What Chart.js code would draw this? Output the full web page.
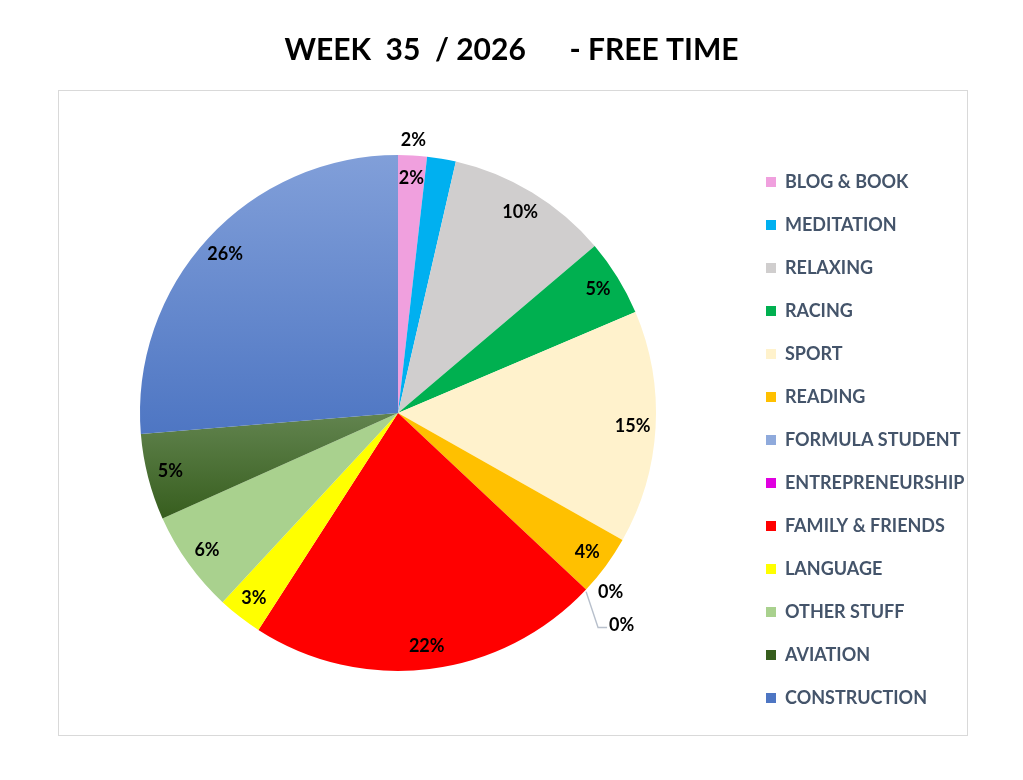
<!DOCTYPE html>
<html>
<head>
<meta charset="utf-8">
<title>Free time</title>
<script src="https://cdn.jsdelivr.net/npm/chart.js@4.4.1/dist/chart.umd.min.js"></script>
<style>
    html, body { margin: 0; padding: 0; background: #fff; }
</style>
</head>
<body>
<canvas id="myChart" width="1023" height="780"></canvas>
<script>
// data (share of free time, %)
const categories = ["BLOG & BOOK", "MEDITATION", "RELAXING", "RACING", "SPORT", "READING",
    "FORMULA STUDENT", "ENTREPRENEURSHIP", "FAMILY & FRIENDS", "LANGUAGE", "OTHER STUFF",
    "AVIATION", "CONSTRUCTION"];
const shares = [1.8, 1.8, 10.2, 4.8, 14.6, 3.8, 0, 0, 22.1, 2.8, 6.4, 5.4, 26.3];

const colours = ["#F0A0DE", "#00B0F0", "#D0CECE", "#00B050", "#FFF2CC", "#FFC000",
    "#8FAADC", "#E000E0", "#FF0000", "#FFFF00", "#A9D18E", "#4A6D38", "#5B7FCB"];
// top / bottom shades for the two slices that have a gradient fill
const shades = { 11: ["#62844F", "#375E1E"], 12: ["#819FD9", "#4E76C3"] };

const fontName = "Lato";
const pieRadius = 258;

function sliceFill(context) {
    let i = context.dataIndex;
    let chart = context.chart;
    let area = chart.chartArea;
    if (!shades[i] || !area) return colours[i];

    let cx = (area.left + area.right) / 2;
    let cy = (area.top + area.bottom) / 2;
    let r = pieRadius;
    let total = shares.reduce((a, b) => a + b, 0);
    let before = shares.slice(0, i).reduce((a, b) => a + b, 0);
    let a0 = -Math.PI / 2 + 2 * Math.PI * before / total;
    let a1 = a0 + 2 * Math.PI * shares[i] / total;
    let yMin = cy, yMax = cy;
    for (let k = 0; k <= 40; k++) {
        let y = cy + r * Math.sin(a0 + (a1 - a0) * k / 40);
        yMin = Math.min(yMin, y);
        yMax = Math.max(yMax, y);
    }
    let g = chart.ctx.createLinearGradient(0, yMin, 0, yMax);
    g.addColorStop(0, shades[i][0]);
    g.addColorStop(1, shades[i][1]);
    return g;
}

// grey frame round the plot, like the spreadsheet chart area
const frame = {
    id: "frame",
    beforeDraw(chart) {
        let ctx = chart.ctx;
        ctx.save();
        ctx.strokeStyle = "#D9D9D9";
        ctx.lineWidth = 1;
        ctx.strokeRect(58.5, 90.5, 909, 645);
        ctx.restore();
    }
};

// percentage labels on the slices
const sliceLabels = {
    id: "sliceLabels",
    afterDatasetsDraw(chart) {
        let ctx = chart.ctx;
        let meta = chart.getDatasetMeta(0);
        let total = shares.reduce((a, b) => a + b, 0);
        let zeroCount = 0;
        let prevSmall = false;
        let prevAngle = 0;

        ctx.save();
        ctx.font = "bold 18px " + fontName;
        ctx.fillStyle = "#000";
        ctx.textBaseline = "middle";

        meta.data.forEach(function(arc, i) {
            let p = arc.getProps(["x", "y", "startAngle", "endAngle", "outerRadius"], true);
            let text = Math.round(shares[i] / total * 100) + "%";
            let mid = (p.startAngle + p.endAngle) / 2;

            if (shares[i] === 0) {
                let ex = p.x + Math.cos(mid) * p.outerRadius;
                let ey = p.y + Math.sin(mid) * p.outerRadius;
                ctx.textAlign = "left";
                if (zeroCount === 0) {
                    ctx.fillText(text, ex + 12, ey + 3);
                } else {
                    ctx.strokeStyle = "#B8C0CC";
                    ctx.lineWidth = 1.5;
                    ctx.beginPath();
                    ctx.moveTo(ex, ey + 2);
                    ctx.lineTo(ex + 12, ey + 38);
                    ctx.lineTo(ex + 21, ey + 38);
                    ctx.stroke();
                    ctx.fillText(text, ex + 23, ey + 36);
                }
                zeroCount++;
                return;
            }

            // a thin slice next to another thin one gets its label outside,
            // pushed out along the neighbour's ray
            let small = shares[i] / total < 0.025;
            let ang = mid;
            let r = p.outerRadius - 23;
            if (small && prevSmall) {
                r = p.outerRadius + 15;
                ang = prevAngle;
            }
            prevSmall = small;
            prevAngle = mid;
            ctx.textAlign = "center";
            ctx.fillText(text, p.x + Math.cos(ang) * r, p.y + Math.sin(ang) * r);
        });
        ctx.restore();
    }
};

var myChart = new Chart(document.getElementById("myChart").getContext("2d"), {
    type: "pie",
    data: {
        labels: categories,
        datasets: [{
            data: shares,
            backgroundColor: sliceFill,
            borderWidth: 0,
            radius: pieRadius
        }]
    },
    options: {
        responsive: false,
        animation: false,
        layout: {
            padding: { left: 55, right: 55, top: 0, bottom: 24 }
        },
        plugins: {
            title: {
                display: true,
                text: "WEEK  35  / 2026      - FREE TIME",
                color: "#000",
                font: { family: fontName, size: 30, weight: "bold" },
                padding: { top: 32, bottom: 2 }
            },
            legend: {
                position: "right",
                align: "center",
                maxWidth: 227,
                title: {
                    display: true,
                    text: " ",
                    font: { size: 10 },
                    padding: { top: 112, bottom: 0 }
                },
                labels: {
                    color: "#44546A",
                    font: { family: fontName, size: 18, weight: "bold" },
                    boxWidth: 10,
                    boxHeight: 10,
                    padding: 25
                }
            },
            tooltip: { enabled: false }
        }
    },
    plugins: [frame, sliceLabels]
});
</script>
</body>
</html>
